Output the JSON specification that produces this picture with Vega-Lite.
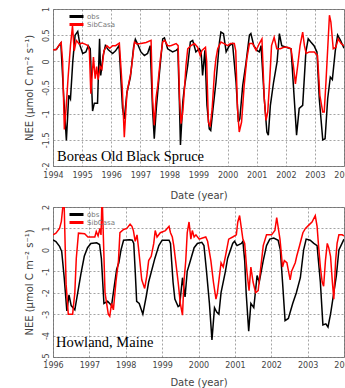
{
"$schema":"https://vega.github.io/schema/vega-lite/v6.json",
"padding":{"left":23,"top":5,"right":0,"bottom":0},
"spacing":2,
"background":"white",
"config":{
 "view":{"stroke":"#888","strokeWidth":1},
 "axis":{"labelFont":"DejaVu Sans","labelFontSize":8,"labelColor":"#444","titleFont":"DejaVu Sans","titleFontSize":10,"titleFontWeight":"normal","titleColor":"#444","domain":false,"ticks":false,"grid":true,"gridColor":"#666","gridDash":[2,2],"gridWidth":0.6},
 "legend":{"orient":"none","symbolType":"stroke","symbolSize":196,"symbolStrokeWidth":3,"labelFont":"DejaVu Sans","labelFontSize":7,"labelColor":"#777","labelOffset":2,"padding":0,"title":null}
},
"resolve":{"legend":{"color":"independent","stroke":"independent"}},
"datasets":{
"boreas":[
{"s":"obs","t":1994.04,"v":0.22},{"s":"obs","t":1994.12,"v":0.23},{"s":"obs","t":1994.2,"v":0.3},{"s":"obs","t":1994.27,"v":0.35},{"s":"obs","t":1994.37,"v":-0.7},{"s":"obs","t":1994.46,"v":-1.51},{"s":"obs","t":1994.54,"v":-0.65},{"s":"obs","t":1994.6,"v":-0.72},{"s":"obs","t":1994.68,"v":0.0},{"s":"obs","t":1994.76,"v":0.5},{"s":"obs","t":1994.85,"v":0.57},{"s":"obs","t":1994.93,"v":0.3},{"s":"obs","t":1995.02,"v":0.15},{"s":"obs","t":1995.13,"v":0.18},{"s":"obs","t":1995.21,"v":0.3},{"s":"obs","t":1995.28,"v":0.24},{"s":"obs","t":1995.36,"v":-0.95},{"s":"obs","t":1995.42,"v":-0.8},{"s":"obs","t":1995.53,"v":-0.8},{"s":"obs","t":1995.6,"v":0.43},{"s":"obs","t":1995.64,"v":-0.27},{"s":"obs","t":1995.72,"v":0.1},{"s":"obs","t":1995.8,"v":0.3},{"s":"obs","t":1995.9,"v":0.22},{"s":"obs","t":1996.05,"v":0.15},{"s":"obs","t":1996.15,"v":0.2},{"s":"obs","t":1996.27,"v":0.3},{"s":"obs","t":1996.39,"v":-0.9},{"s":"obs","t":1996.45,"v":-1.1},{"s":"obs","t":1996.54,"v":-0.6},{"s":"obs","t":1996.66,"v":-0.3},{"s":"obs","t":1996.77,"v":0.27},{"s":"obs","t":1996.83,"v":0.42},{"s":"obs","t":1996.9,"v":0.34},{"s":"obs","t":1997.02,"v":0.18},{"s":"obs","t":1997.14,"v":0.11},{"s":"obs","t":1997.25,"v":0.15},{"s":"obs","t":1997.34,"v":0.3},{"s":"obs","t":1997.42,"v":-0.9},{"s":"obs","t":1997.48,"v":-1.48},{"s":"obs","t":1997.55,"v":-0.9},{"s":"obs","t":1997.65,"v":-0.27},{"s":"obs","t":1997.77,"v":0.43},{"s":"obs","t":1997.83,"v":0.45},{"s":"obs","t":1997.94,"v":0.24},{"s":"obs","t":1998.11,"v":0.18},{"s":"obs","t":1998.23,"v":0.21},{"s":"obs","t":1998.29,"v":0.24},{"s":"obs","t":1998.34,"v":-0.71},{"s":"obs","t":1998.38,"v":-1.6},{"s":"obs","t":1998.46,"v":-0.78},{"s":"obs","t":1998.51,"v":-0.52},{"s":"obs","t":1998.63,"v":-0.08},{"s":"obs","t":1998.72,"v":0.37},{"s":"obs","t":1998.8,"v":0.4},{"s":"obs","t":1998.91,"v":0.18},{"s":"obs","t":1999.03,"v":0.24},{"s":"obs","t":1999.09,"v":0.18},{"s":"obs","t":1999.14,"v":-0.27},{"s":"obs","t":1999.22,"v":0.21},{"s":"obs","t":1999.29,"v":-0.84},{"s":"obs","t":1999.37,"v":-1.29},{"s":"obs","t":1999.42,"v":-1.32},{"s":"obs","t":1999.5,"v":-0.9},{"s":"obs","t":1999.6,"v":-0.4},{"s":"obs","t":1999.72,"v":0.37},{"s":"obs","t":1999.77,"v":0.56},{"s":"obs","t":1999.86,"v":0.53},{"s":"obs","t":1999.95,"v":0.18},{"s":"obs","t":2000.06,"v":0.3},{"s":"obs","t":2000.17,"v":0.34},{"s":"obs","t":2000.29,"v":-0.4},{"s":"obs","t":2000.37,"v":-1.16},{"s":"obs","t":2000.42,"v":-1.1},{"s":"obs","t":2000.52,"v":-0.46},{"s":"obs","t":2000.63,"v":-0.04},{"s":"obs","t":2000.75,"v":0.5},{"s":"obs","t":2000.8,"v":0.53},{"s":"obs","t":2000.9,"v":0.3},{"s":"obs","t":2001.01,"v":0.21},{"s":"obs","t":2001.09,"v":0.18},{"s":"obs","t":2001.15,"v":0.3},{"s":"obs","t":2001.26,"v":-0.71},{"s":"obs","t":2001.35,"v":-1.35},{"s":"obs","t":2001.4,"v":-1.41},{"s":"obs","t":2001.47,"v":-0.84},{"s":"obs","t":2001.58,"v":-0.4},{"s":"obs","t":2001.7,"v":-0.01},{"s":"obs","t":2001.78,"v":0.53},{"s":"obs","t":2001.86,"v":0.3},{"s":"obs","t":2002.01,"v":0.27},{"s":"obs","t":2002.18,"v":0.24},{"s":"obs","t":2002.29,"v":-0.71},{"s":"obs","t":2002.37,"v":-1.41},{"s":"obs","t":2002.46,"v":-0.9},{"s":"obs","t":2002.58,"v":-0.84},{"s":"obs","t":2002.69,"v":0.18},{"s":"obs","t":2002.77,"v":0.43},{"s":"obs","t":2002.86,"v":0.37},{"s":"obs","t":2002.97,"v":0.3},{"s":"obs","t":2003.07,"v":0.18},{"s":"obs","t":2003.15,"v":-0.71},{"s":"obs","t":2003.27,"v":-1.5},{"s":"obs","t":2003.35,"v":-1.48},{"s":"obs","t":2003.44,"v":-0.71},{"s":"obs","t":2003.53,"v":-0.3},{"s":"obs","t":2003.6,"v":-0.35},{"s":"obs","t":2003.7,"v":0.2},{"s":"obs","t":2003.78,"v":0.5},{"s":"obs","t":2003.88,"v":0.4},{"s":"obs","t":2004.0,"v":0.25},
{"s":"SibCasa","t":1994.0,"v":0.22},{"s":"SibCasa","t":1994.1,"v":0.22},{"s":"SibCasa","t":1994.2,"v":0.3},{"s":"SibCasa","t":1994.28,"v":0.36},{"s":"SibCasa","t":1994.33,"v":0.0},{"s":"SibCasa","t":1994.39,"v":-1.3},{"s":"SibCasa","t":1994.45,"v":-0.9},{"s":"SibCasa","t":1994.52,"v":-0.3},{"s":"SibCasa","t":1994.6,"v":0.3},{"s":"SibCasa","t":1994.67,"v":0.68},{"s":"SibCasa","t":1994.73,"v":0.2},{"s":"SibCasa","t":1994.8,"v":0.4},{"s":"SibCasa","t":1994.9,"v":0.33},{"s":"SibCasa","t":1995.0,"v":0.35},{"s":"SibCasa","t":1995.1,"v":0.33},{"s":"SibCasa","t":1995.2,"v":0.3},{"s":"SibCasa","t":1995.25,"v":0.2},{"s":"SibCasa","t":1995.3,"v":-0.62},{"s":"SibCasa","t":1995.39,"v":0.08},{"s":"SibCasa","t":1995.45,"v":-0.33},{"s":"SibCasa","t":1995.5,"v":-0.1},{"s":"SibCasa","t":1995.55,"v":-0.35},{"s":"SibCasa","t":1995.62,"v":-0.1},{"s":"SibCasa","t":1995.68,"v":-0.15},{"s":"SibCasa","t":1995.75,"v":0.2},{"s":"SibCasa","t":1995.85,"v":0.3},{"s":"SibCasa","t":1995.95,"v":0.25},{"s":"SibCasa","t":1996.05,"v":0.3},{"s":"SibCasa","t":1996.15,"v":0.3},{"s":"SibCasa","t":1996.28,"v":0.35},{"s":"SibCasa","t":1996.38,"v":-0.5},{"s":"SibCasa","t":1996.45,"v":-1.45},{"s":"SibCasa","t":1996.54,"v":-0.6},{"s":"SibCasa","t":1996.68,"v":-0.2},{"s":"SibCasa","t":1996.8,"v":0.37},{"s":"SibCasa","t":1996.88,"v":0.33},{"s":"SibCasa","t":1997.02,"v":0.34},{"s":"SibCasa","t":1997.2,"v":0.36},{"s":"SibCasa","t":1997.37,"v":0.4},{"s":"SibCasa","t":1997.42,"v":-0.7},{"s":"SibCasa","t":1997.48,"v":-1.22},{"s":"SibCasa","t":1997.54,"v":-0.7},{"s":"SibCasa","t":1997.6,"v":-0.46},{"s":"SibCasa","t":1997.69,"v":0.05},{"s":"SibCasa","t":1997.77,"v":0.37},{"s":"SibCasa","t":1997.84,"v":0.4},{"s":"SibCasa","t":1997.94,"v":0.3},{"s":"SibCasa","t":1998.05,"v":0.3},{"s":"SibCasa","t":1998.23,"v":0.34},{"s":"SibCasa","t":1998.3,"v":0.3},{"s":"SibCasa","t":1998.35,"v":-0.71},{"s":"SibCasa","t":1998.4,"v":-1.19},{"s":"SibCasa","t":1998.46,"v":-0.97},{"s":"SibCasa","t":1998.51,"v":-0.59},{"s":"SibCasa","t":1998.57,"v":-0.08},{"s":"SibCasa","t":1998.63,"v":0.24},{"s":"SibCasa","t":1998.74,"v":0.3},{"s":"SibCasa","t":1998.86,"v":0.34},{"s":"SibCasa","t":1998.97,"v":0.27},{"s":"SibCasa","t":1999.06,"v":0.11},{"s":"SibCasa","t":1999.12,"v":0.21},{"s":"SibCasa","t":1999.24,"v":0.27},{"s":"SibCasa","t":1999.28,"v":0.0},{"s":"SibCasa","t":1999.34,"v":-1.16},{"s":"SibCasa","t":1999.4,"v":-1.25},{"s":"SibCasa","t":1999.47,"v":-0.9},{"s":"SibCasa","t":1999.55,"v":-0.2},{"s":"SibCasa","t":1999.6,"v":0.05},{"s":"SibCasa","t":1999.66,"v":0.24},{"s":"SibCasa","t":1999.77,"v":0.37},{"s":"SibCasa","t":1999.88,"v":0.34},{"s":"SibCasa","t":2000.0,"v":0.3},{"s":"SibCasa","t":2000.1,"v":0.34},{"s":"SibCasa","t":2000.23,"v":0.34},{"s":"SibCasa","t":2000.28,"v":0.2},{"s":"SibCasa","t":2000.34,"v":-0.9},{"s":"SibCasa","t":2000.4,"v":-1.35},{"s":"SibCasa","t":2000.48,"v":-1.16},{"s":"SibCasa","t":2000.57,"v":-0.46},{"s":"SibCasa","t":2000.66,"v":0.05},{"s":"SibCasa","t":2000.75,"v":0.34},{"s":"SibCasa","t":2000.86,"v":0.34},{"s":"SibCasa","t":2000.98,"v":0.21},{"s":"SibCasa","t":2001.09,"v":0.34},{"s":"SibCasa","t":2001.18,"v":0.43},{"s":"SibCasa","t":2001.26,"v":-0.71},{"s":"SibCasa","t":2001.32,"v":-1.13},{"s":"SibCasa","t":2001.38,"v":-0.97},{"s":"SibCasa","t":2001.45,"v":-0.33},{"s":"SibCasa","t":2001.51,"v":0.3},{"s":"SibCasa","t":2001.6,"v":0.46},{"s":"SibCasa","t":2001.69,"v":0.24},{"s":"SibCasa","t":2001.81,"v":0.24},{"s":"SibCasa","t":2001.93,"v":0.27},{"s":"SibCasa","t":2002.06,"v":0.27},{"s":"SibCasa","t":2002.18,"v":0.24},{"s":"SibCasa","t":2002.26,"v":-0.08},{"s":"SibCasa","t":2002.33,"v":-0.43},{"s":"SibCasa","t":2002.41,"v":-0.08},{"s":"SibCasa","t":2002.49,"v":0.3},{"s":"SibCasa","t":2002.58,"v":0.56},{"s":"SibCasa","t":2002.64,"v":0.3},{"s":"SibCasa","t":2002.7,"v":0.15},{"s":"SibCasa","t":2002.81,"v":0.18},{"s":"SibCasa","t":2002.98,"v":0.18},{"s":"SibCasa","t":2003.09,"v":0.11},{"s":"SibCasa","t":2003.17,"v":-0.65},{"s":"SibCasa","t":2003.27,"v":-0.97},{"s":"SibCasa","t":2003.32,"v":-0.97},{"s":"SibCasa","t":2003.38,"v":-0.4},{"s":"SibCasa","t":2003.44,"v":0.24},{"s":"SibCasa","t":2003.5,"v":0.88},{"s":"SibCasa","t":2003.55,"v":0.75},{"s":"SibCasa","t":2003.63,"v":0.24},{"s":"SibCasa","t":2003.72,"v":0.27},{"s":"SibCasa","t":2003.8,"v":0.43},{"s":"SibCasa","t":2003.9,"v":0.34},{"s":"SibCasa","t":2004.0,"v":0.3}
],
"howland":[
{"s":"obs","t":1996.0,"v":0.47},{"s":"obs","t":1996.08,"v":0.39},{"s":"obs","t":1996.18,"v":0.16},{"s":"obs","t":1996.24,"v":-0.08},{"s":"obs","t":1996.31,"v":-1.33},{"s":"obs","t":1996.38,"v":-2.85},{"s":"obs","t":1996.44,"v":-2.1},{"s":"obs","t":1996.5,"v":-2.6},{"s":"obs","t":1996.6,"v":-2.8},{"s":"obs","t":1996.7,"v":-1.8},{"s":"obs","t":1996.77,"v":-1.1},{"s":"obs","t":1996.86,"v":-0.3},{"s":"obs","t":1996.95,"v":0.1},{"s":"obs","t":1997.04,"v":0.3},{"s":"obs","t":1997.2,"v":0.33},{"s":"obs","t":1997.28,"v":0.25},{"s":"obs","t":1997.33,"v":-0.4},{"s":"obs","t":1997.4,"v":-2.5},{"s":"obs","t":1997.5,"v":-2.4},{"s":"obs","t":1997.61,"v":-2.6},{"s":"obs","t":1997.75,"v":-0.9},{"s":"obs","t":1997.81,"v":-0.6},{"s":"obs","t":1997.87,"v":0.0},{"s":"obs","t":1997.94,"v":0.45},{"s":"obs","t":1998.1,"v":0.47},{"s":"obs","t":1998.18,"v":0.45},{"s":"obs","t":1998.22,"v":0.3},{"s":"obs","t":1998.26,"v":-1.0},{"s":"obs","t":1998.3,"v":-2.4},{"s":"obs","t":1998.37,"v":-2.5},{"s":"obs","t":1998.47,"v":-3.0},{"s":"obs","t":1998.56,"v":-2.2},{"s":"obs","t":1998.63,"v":-1.5},{"s":"obs","t":1998.8,"v":-0.4},{"s":"obs","t":1998.91,"v":0.2},{"s":"obs","t":1999.0,"v":0.45},{"s":"obs","t":1999.19,"v":0.45},{"s":"obs","t":1999.23,"v":0.3},{"s":"obs","t":1999.26,"v":-0.5},{"s":"obs","t":1999.3,"v":-1.5},{"s":"obs","t":1999.35,"v":-2.3},{"s":"obs","t":1999.44,"v":-2.65},{"s":"obs","t":1999.48,"v":-2.6},{"s":"obs","t":1999.56,"v":-1.3},{"s":"obs","t":1999.63,"v":-2.2},{"s":"obs","t":1999.69,"v":-1.0},{"s":"obs","t":1999.76,"v":-0.6},{"s":"obs","t":1999.88,"v":0.1},{"s":"obs","t":1999.97,"v":0.3},{"s":"obs","t":2000.09,"v":0.35},{"s":"obs","t":2000.15,"v":0.2},{"s":"obs","t":2000.22,"v":-1.0},{"s":"obs","t":2000.3,"v":-2.5},{"s":"obs","t":2000.37,"v":-4.2},{"s":"obs","t":2000.44,"v":-2.7},{"s":"obs","t":2000.5,"v":-2.9},{"s":"obs","t":2000.56,"v":-3.0},{"s":"obs","t":2000.62,"v":-2.0},{"s":"obs","t":2000.74,"v":-1.0},{"s":"obs","t":2000.8,"v":-0.4},{"s":"obs","t":2000.94,"v":0.3},{"s":"obs","t":2000.99,"v":0.4},{"s":"obs","t":2001.06,"v":0.2},{"s":"obs","t":2001.18,"v":0.3},{"s":"obs","t":2001.22,"v":0.4},{"s":"obs","t":2001.27,"v":-0.5},{"s":"obs","t":2001.31,"v":-2.0},{"s":"obs","t":2001.38,"v":-3.8},{"s":"obs","t":2001.44,"v":-2.5},{"s":"obs","t":2001.52,"v":-2.7},{"s":"obs","t":2001.61,"v":-1.2},{"s":"obs","t":2001.67,"v":-1.5},{"s":"obs","t":2001.78,"v":-0.5},{"s":"obs","t":2001.87,"v":0.2},{"s":"obs","t":2001.96,"v":0.5},{"s":"obs","t":2002.07,"v":0.55},{"s":"obs","t":2002.19,"v":0.45},{"s":"obs","t":2002.25,"v":0.0},{"s":"obs","t":2002.31,"v":-1.5},{"s":"obs","t":2002.38,"v":-3.3},{"s":"obs","t":2002.47,"v":-3.2},{"s":"obs","t":2002.59,"v":-2.5},{"s":"obs","t":2002.69,"v":-2.0},{"s":"obs","t":2002.8,"v":-1.3},{"s":"obs","t":2002.89,"v":0.0},{"s":"obs","t":2002.96,"v":0.5},{"s":"obs","t":2003.07,"v":0.45},{"s":"obs","t":2003.17,"v":0.3},{"s":"obs","t":2003.26,"v":0.2},{"s":"obs","t":2003.35,"v":-1.5},{"s":"obs","t":2003.42,"v":-3.5},{"s":"obs","t":2003.5,"v":-3.45},{"s":"obs","t":2003.56,"v":-3.6},{"s":"obs","t":2003.63,"v":-3.0},{"s":"obs","t":2003.72,"v":-2.0},{"s":"obs","t":2003.79,"v":-1.2},{"s":"obs","t":2003.86,"v":0.0},{"s":"obs","t":2004.0,"v":0.5},
{"s":"SibCasa","t":1996.0,"v":0.7},{"s":"SibCasa","t":1996.08,"v":0.78},{"s":"SibCasa","t":1996.18,"v":1.0},{"s":"SibCasa","t":1996.23,"v":1.33},{"s":"SibCasa","t":1996.27,"v":2.0},{"s":"SibCasa","t":1996.3,"v":2.6},{"s":"SibCasa","t":1996.36,"v":-1.6},{"s":"SibCasa","t":1996.42,"v":-3.0},{"s":"SibCasa","t":1996.54,"v":-3.0},{"s":"SibCasa","t":1996.6,"v":-2.0},{"s":"SibCasa","t":1996.64,"v":-0.4},{"s":"SibCasa","t":1996.7,"v":0.78},{"s":"SibCasa","t":1996.87,"v":0.75},{"s":"SibCasa","t":1996.96,"v":0.6},{"s":"SibCasa","t":1997.15,"v":0.6},{"s":"SibCasa","t":1997.19,"v":0.85},{"s":"SibCasa","t":1997.24,"v":0.65},{"s":"SibCasa","t":1997.29,"v":1.0},{"s":"SibCasa","t":1997.32,"v":0.7},{"s":"SibCasa","t":1997.35,"v":2.6},{"s":"SibCasa","t":1997.43,"v":-2.0},{"s":"SibCasa","t":1997.52,"v":-3.0},{"s":"SibCasa","t":1997.56,"v":-3.1},{"s":"SibCasa","t":1997.61,"v":-2.5},{"s":"SibCasa","t":1997.66,"v":-2.8},{"s":"SibCasa","t":1997.73,"v":-1.5},{"s":"SibCasa","t":1997.8,"v":-0.5},{"s":"SibCasa","t":1997.84,"v":0.8},{"s":"SibCasa","t":1997.94,"v":0.95},{"s":"SibCasa","t":1998.03,"v":1.0},{"s":"SibCasa","t":1998.12,"v":1.2},{"s":"SibCasa","t":1998.17,"v":1.1},{"s":"SibCasa","t":1998.21,"v":0.9},{"s":"SibCasa","t":1998.26,"v":0.4},{"s":"SibCasa","t":1998.31,"v":0.7},{"s":"SibCasa","t":1998.35,"v":0.1},{"s":"SibCasa","t":1998.44,"v":-1.4},{"s":"SibCasa","t":1998.52,"v":-1.8},{"s":"SibCasa","t":1998.58,"v":-1.2},{"s":"SibCasa","t":1998.63,"v":-0.5},{"s":"SibCasa","t":1998.7,"v":-0.3},{"s":"SibCasa","t":1998.77,"v":0.3},{"s":"SibCasa","t":1998.81,"v":0.9},{"s":"SibCasa","t":1998.86,"v":0.6},{"s":"SibCasa","t":1998.95,"v":0.8},{"s":"SibCasa","t":1999.09,"v":0.9},{"s":"SibCasa","t":1999.19,"v":1.1},{"s":"SibCasa","t":1999.23,"v":0.8},{"s":"SibCasa","t":1999.28,"v":0.6},{"s":"SibCasa","t":1999.32,"v":0.2},{"s":"SibCasa","t":1999.37,"v":-0.5},{"s":"SibCasa","t":1999.44,"v":-1.5},{"s":"SibCasa","t":1999.5,"v":-2.5},{"s":"SibCasa","t":1999.56,"v":-3.05},{"s":"SibCasa","t":1999.6,"v":-1.5},{"s":"SibCasa","t":1999.65,"v":-0.5},{"s":"SibCasa","t":1999.69,"v":0.8},{"s":"SibCasa","t":1999.74,"v":1.3},{"s":"SibCasa","t":1999.79,"v":0.5},{"s":"SibCasa","t":1999.83,"v":0.9},{"s":"SibCasa","t":1999.88,"v":0.6},{"s":"SibCasa","t":1999.93,"v":0.7},{"s":"SibCasa","t":2000.02,"v":0.5},{"s":"SibCasa","t":2000.11,"v":0.55},{"s":"SibCasa","t":2000.2,"v":0.6},{"s":"SibCasa","t":2000.25,"v":0.4},{"s":"SibCasa","t":2000.34,"v":-0.5},{"s":"SibCasa","t":2000.41,"v":-1.5},{"s":"SibCasa","t":2000.48,"v":-2.3},{"s":"SibCasa","t":2000.52,"v":-2.0},{"s":"SibCasa","t":2000.62,"v":-0.6},{"s":"SibCasa","t":2000.68,"v":-0.8},{"s":"SibCasa","t":2000.74,"v":-0.3},{"s":"SibCasa","t":2000.83,"v":0.5},{"s":"SibCasa","t":2000.94,"v":0.6},{"s":"SibCasa","t":2001.04,"v":0.7},{"s":"SibCasa","t":2001.08,"v":1.3},{"s":"SibCasa","t":2001.13,"v":1.6},{"s":"SibCasa","t":2001.22,"v":0.5},{"s":"SibCasa","t":2001.27,"v":0.3},{"s":"SibCasa","t":2001.33,"v":-1.0},{"s":"SibCasa","t":2001.39,"v":-1.9},{"s":"SibCasa","t":2001.44,"v":-0.8},{"s":"SibCasa","t":2001.5,"v":-1.5},{"s":"SibCasa","t":2001.57,"v":-2.0},{"s":"SibCasa","t":2001.64,"v":-1.9},{"s":"SibCasa","t":2001.7,"v":-1.0},{"s":"SibCasa","t":2001.78,"v":0.2},{"s":"SibCasa","t":2001.87,"v":0.7},{"s":"SibCasa","t":2002.01,"v":0.7},{"s":"SibCasa","t":2002.1,"v":0.9},{"s":"SibCasa","t":2002.15,"v":1.5},{"s":"SibCasa","t":2002.24,"v":0.5},{"s":"SibCasa","t":2002.31,"v":-0.8},{"s":"SibCasa","t":2002.36,"v":-0.5},{"s":"SibCasa","t":2002.43,"v":-0.6},{"s":"SibCasa","t":2002.52,"v":-1.4},{"s":"SibCasa","t":2002.56,"v":-1.0},{"s":"SibCasa","t":2002.66,"v":-0.6},{"s":"SibCasa","t":2002.7,"v":-0.3},{"s":"SibCasa","t":2002.78,"v":0.2},{"s":"SibCasa","t":2002.87,"v":0.8},{"s":"SibCasa","t":2002.94,"v":1.0},{"s":"SibCasa","t":2003.06,"v":1.2},{"s":"SibCasa","t":2003.12,"v":1.3},{"s":"SibCasa","t":2003.21,"v":1.6},{"s":"SibCasa","t":2003.26,"v":1.1},{"s":"SibCasa","t":2003.3,"v":0.2},{"s":"SibCasa","t":2003.35,"v":-0.8},{"s":"SibCasa","t":2003.4,"v":-1.5},{"s":"SibCasa","t":2003.44,"v":-1.7},{"s":"SibCasa","t":2003.49,"v":-0.5},{"s":"SibCasa","t":2003.54,"v":0.3},{"s":"SibCasa","t":2003.58,"v":0.1},{"s":"SibCasa","t":2003.63,"v":-0.3},{"s":"SibCasa","t":2003.68,"v":-1.5},{"s":"SibCasa","t":2003.72,"v":-2.3},{"s":"SibCasa","t":2003.77,"v":-0.5},{"s":"SibCasa","t":2003.81,"v":0.3},{"s":"SibCasa","t":2003.86,"v":0.7},{"s":"SibCasa","t":2003.95,"v":0.7},{"s":"SibCasa","t":2004.0,"v":0.65}
]
},
"vconcat":[
{
 "width":291,"height":157,
 "encoding":{
  "x":{"field":"t","type":"quantitative","scale":{"domain":[1994,2004],"nice":false,"zero":false},"axis":{"values":[1994,1995,1996,1997,1998,1999,2000,2001,2002,2003,2004],"labelExpr":"toString(datum.value)","labelFlush":false,"labelPadding":5,"title":"Date (year)","titlePadding":11}},
  "y":{"field":"v","type":"quantitative","scale":{"domain":[-2,1],"nice":false,"zero":false},"axis":{"values":[-2,-1.5,-1,-0.5,0,0.5,1],"labelExpr":"toString(datum.value)","labelAngle":-90,"labelPadding":3,"title":"NEE (μmol C m⁻² s⁻¹)","titlePadding":8}}
 },
 "layer":[
  {"data":{"name":"boreas"},"transform":[{"filter":"datum.s=='obs'"}],"mark":{"type":"line","strokeWidth":1.5,"clip":true},"encoding":{"color":{"field":"s","type":"nominal","scale":{"domain":["obs"],"range":["#000000"]},"legend":{"legendX":15,"legendY":-1}}}},
  {"data":{"name":"boreas"},"transform":[{"filter":"datum.s=='SibCasa'"}],"mark":{"type":"line","strokeWidth":1.5,"clip":true},"encoding":{"stroke":{"field":"s","type":"nominal","scale":{"domain":["SibCasa"],"range":["#ff0000"]},"legend":{"legendX":15,"legendY":7}}}},
  {"data":{"values":[{"label":"Boreas Old Black Spruce","t":1994.14,"v":-1.9}]},"mark":{"type":"text","font":"Liberation Serif","fontSize":14.5,"align":"left","baseline":"alphabetic","color":"#000"},"encoding":{"text":{"field":"label"}}}
 ]
},
{
 "width":291,"height":150,
 "encoding":{
  "x":{"field":"t","type":"quantitative","scale":{"domain":[1996,2004],"nice":false,"zero":false},"axis":{"values":[1996,1997,1998,1999,2000,2001,2002,2003,2004],"labelExpr":"toString(datum.value)","labelFlush":false,"labelPadding":4,"title":"Date (year)","titlePadding":8}},
  "y":{"field":"v","type":"quantitative","scale":{"domain":[-5,2],"nice":false,"zero":false},"axis":{"values":[-5,-4,-3,-2,-1,0,1,2],"labelExpr":"toString(datum.value)","labelAngle":-90,"labelPadding":3,"title":"NEE (μmol C m⁻² s⁻¹)","titlePadding":8}}
 },
 "layer":[
  {"data":{"name":"howland"},"transform":[{"filter":"datum.s=='obs'"}],"mark":{"type":"line","strokeWidth":1.5,"clip":true},"encoding":{"color":{"field":"s","type":"nominal","scale":{"domain":["obs"],"range":["#000000"]},"legend":{"legendX":15,"legendY":-1}}}},
  {"data":{"name":"howland"},"transform":[{"filter":"datum.s=='SibCasa'"}],"mark":{"type":"line","strokeWidth":1.5,"clip":true},"encoding":{"stroke":{"field":"s","type":"nominal","scale":{"domain":["SibCasa"],"range":["#ff0000"]},"legend":{"legendX":15,"legendY":7}}}},
  {"data":{"values":[{"label":"Howland, Maine","t":1996.08,"v":-4.53}]},"mark":{"type":"text","font":"Liberation Serif","fontSize":14.5,"align":"left","baseline":"alphabetic","color":"#000"},"encoding":{"text":{"field":"label"}}}
 ]
}
]
}
